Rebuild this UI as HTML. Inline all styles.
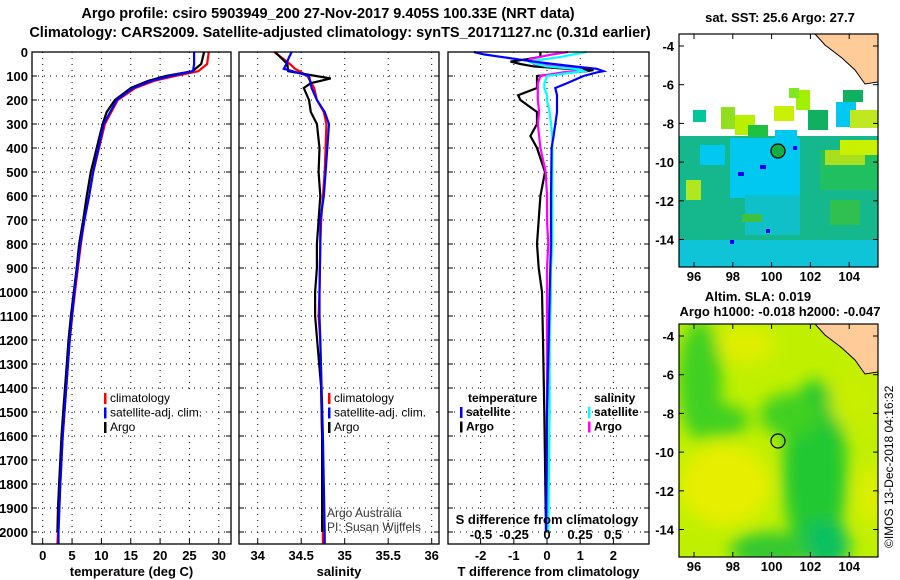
<!DOCTYPE html>
<html><head><meta charset="utf-8"><style>
body{margin:0;background:#fff}
svg{display:block;font-family:"Liberation Sans",sans-serif}
.t{font-weight:bold;font-size:14.5px}
.tk{font-weight:bold;font-size:13px}
.lg{font-size:12px}
.lgb{font-size:12px;font-weight:bold}
</style></head><body>
<svg id="c" width="900" height="580" viewBox="0 0 900 580">
<text class="t" x="328" y="18" text-anchor="middle">Argo profile: csiro 5903949_200 27-Nov-2017 9.405S 100.33E (NRT data)</text>
<text class="t" x="340" y="37" text-anchor="middle">Climatology: CARS2009. Satellite-adjusted climatology: synTS_20171127.nc (0.31d earlier)</text>
<g id="plots"></g>

<!-- SST map -->
<g>
<text class="tk" x="780" y="22" text-anchor="middle">sat. SST: 25.6 Argo: 27.7</text>
<rect x="679" y="34" width="199" height="233" fill="#fff"/>
<rect x="679" y="136" width="199" height="131" fill="#14b88c"/>
<rect x="730" y="138" width="70" height="60" fill="#00c8f0"/>
<rect x="745" y="195" width="55" height="40" fill="#10c0c8"/>
<rect x="679" y="240" width="199" height="27" fill="#10c4d8"/>
<rect x="820" y="150" width="58" height="40" fill="#20c060"/>
<rect x="825" y="150" width="40" height="15" fill="#a8e020"/>
<rect x="840" y="140" width="38" height="15" fill="#c8f000"/>
<rect x="686" y="180" width="15" height="20" fill="#b0e820"/>
<rect x="742" y="214" width="20" height="8" fill="#40c040"/>
<rect x="700" y="145" width="25" height="20" fill="#00c8f0"/>
<rect x="830" y="200" width="30" height="25" fill="#30c050"/>
<rect x="693" y="110" width="13" height="12" fill="#00c898"/>
<rect x="721" y="107" width="14" height="22" fill="#90e020"/>
<rect x="735" y="115" width="20" height="20" fill="#b8f000"/>
<rect x="748" y="125" width="20" height="12" fill="#20c040"/>
<rect x="774" y="106" width="20" height="15" fill="#c8f000"/>
<rect x="796" y="90" width="14" height="20" fill="#a0f000"/>
<rect x="789" y="88" width="10" height="10" fill="#80e820"/>
<rect x="808" y="110" width="20" height="20" fill="#10b060"/>
<rect x="843" y="90" width="20" height="12" fill="#10b060"/>
<rect x="836" y="102" width="20" height="25" fill="#00c8f0"/>
<rect x="850" y="110" width="28" height="18" fill="#c0e820"/>
<rect x="775" y="130" width="22" height="12" fill="#00c8f0"/>
<rect x="793" y="146" width="4" height="4" fill="#00f"/>
<rect x="760" y="165" width="6" height="4" fill="#00f"/>
<rect x="738" y="172" width="6" height="4" fill="#00f"/>
<rect x="730" y="240" width="4" height="4" fill="#00f"/>
<rect x="766" y="229" width="4" height="4" fill="#00f"/>
<path d="M815 34 L878 34 L878 82 L865 84 L855 70 L842 58 L825 45 Z" fill="#ffcc99" stroke="#000" stroke-width="1"/>
<circle cx="778" cy="151" r="7" fill="#10b040" stroke="#000" stroke-width="1.2"/>
<rect x="679" y="34" width="199" height="233" fill="none" stroke="#000" stroke-width="1.2"/>
<g id="map1ticks"></g>
</g>

<!-- SLA map -->
<g>
<text class="tk" x="758" y="301" text-anchor="middle">Altim. SLA: 0.019</text>
<text class="tk" x="780" y="316" text-anchor="middle">Argo h1000: -0.018 h2000: -0.047</text>
<defs><clipPath id="m2"><rect x="679" y="324" width="199" height="233"/></clipPath>
<filter id="bl"><feGaussianBlur stdDeviation="8"/></filter></defs>
<g clip-path="url(#m2)">
<rect x="679" y="324" width="199" height="233" fill="#c0f000"/>
<g filter="url(#bl)">
<ellipse cx="745" cy="345" rx="30" ry="18" fill="#e0ee00"/>
<ellipse cx="700" cy="380" rx="22" ry="60" fill="#40d020"/>
<ellipse cx="720" cy="420" rx="30" ry="16" fill="#40d020"/>
<ellipse cx="815" cy="470" rx="32" ry="90" fill="#20c830"/>
<ellipse cx="790" cy="415" rx="30" ry="22" fill="#40d020"/>
<ellipse cx="825" cy="545" rx="25" ry="25" fill="#10c060"/>
<ellipse cx="770" cy="550" rx="40" ry="18" fill="#30c830"/>
<ellipse cx="725" cy="485" rx="45" ry="40" fill="#e8ee00"/>
<ellipse cx="870" cy="495" rx="12" ry="30" fill="#e0ee00"/>
<ellipse cx="855" cy="400" rx="25" ry="30" fill="#c8ee00"/>
</g>
</g>
<path d="M815 324 L878 324 L878 372 L865 374 L855 360 L842 348 L825 335 Z" fill="#ffcc99" stroke="#000" stroke-width="1"/>
<circle cx="778" cy="441" r="7" fill="none" stroke="#000" stroke-width="1.2"/>
<rect x="679" y="324" width="199" height="233" fill="none" stroke="#000" stroke-width="1.2"/>
<g id="map2ticks"></g>
</g>
<text x="893" y="548" font-size="12" transform="rotate(-90 893 548)">©IMOS 13-Dec-2018 04:16:32</text>
</svg>
<script>
// ---- data ----
const depthT = [0,50,80,100,120,150,200,250,300,400,500,600,700,800,900,1000,1100,1200,1300,1400,1500,1600,1700,1800,1900,2000];
const tempArgo = [27.5,27,25.5,21,18,15,12.3,10.9,10.2,9.2,8.2,7.5,6.9,6.2,5.8,5.3,4.8,4.4,4.1,3.8,3.5,3.2,3.0,2.8,2.6,2.5];
const depthTc = [0,50,80,100,120,150,200,300,400,500,600,700,800,900,1000,1100,1200,1400,1600,1800,2000,2050];
const tempClim = [28.3,28,26.5,22.5,19,15.8,12.8,10.6,9.6,8.6,7.9,7.1,6.5,6.0,5.5,5.0,4.6,4.0,3.4,3.0,2.6,2.5];
const tempSat = [25.8,25.8,25.6,21.7,18.5,15.4,12.6,10.4,9.5,8.6,7.9,7.1,6.4,5.9,5.4,5.0,4.6,4.0,3.4,3.0,2.7,2.7];
const depthS = [0,50,80,100,110,130,150,200,250,300,400,500,600,700,800,900,1000,1100,1400,1600,2000];
const salArgo = [34.2,34.34,34.35,34.67,34.84,34.61,34.53,34.59,34.61,34.68,34.71,34.7,34.72,34.7,34.68,34.68,34.66,34.66,34.73,34.74,34.74];
const depthSc = [0,30,50,70,80,100,150,200,250,300,400,500,600,700,800,1000,1100,1200,1600,2000,2050];
const salClim = [34.19,34.3,34.37,34.43,34.48,34.57,34.65,34.68,34.76,34.79,34.78,34.77,34.75,34.73,34.72,34.71,34.7,34.72,34.74,34.75,34.75];
const salSat = [34.39,34.35,34.33,34.3,34.4,34.59,34.62,34.68,34.77,34.82,34.8,34.78,34.76,34.72,34.72,34.71,34.71,34.72,34.75,34.77,34.77];
const depthD = [0,10,20,30,40,50,60,70,75,80,85,100,130,150,180,200,250,300,350,400,500,600,700,800,900,1000,1200,1500,2000];
const dTsat = [-2.2,-1.9,-1.4,-0.9,-0.4,0.2,0.8,1.5,1.6,1.7,1.5,1.1,0.6,0.25,0.3,0.3,0.3,0.25,0.2,0.14,0.13,0.12,0.12,0.12,0.1,0.08,0.05,0.0,-0.03];
const dTargo = [-0.2,-0.2,-0.2,-0.6,-1.1,-0.8,-0.4,0.6,1.4,1.2,0.8,-0.3,-0.3,-0.3,-0.87,-0.8,-0.3,-0.3,-0.5,-0.3,-0.06,-0.2,-0.25,-0.3,-0.25,-0.15,-0.12,-0.08,-0.03];
const dSsat = [0.3,0.2,0.11,-0.02,-0.14,-0.08,0.0,0.2,0.26,0.28,0.2,0.0,-0.02,-0.02,0.0,0.0,0.02,0.03,0.04,0.04,0.04,0.04,0.04,0.04,0.03,0.03,0.02,0.02,0.01];
const dSargo = [0.16,0.04,-0.05,-0.13,-0.12,-0.1,0.05,0.25,0.22,0.2,0.12,-0.05,-0.07,-0.07,-0.07,-0.07,-0.06,-0.07,-0.06,-0.05,-0.01,0.0,0.0,0.01,0.0,0.0,0.0,0.0,0.0];
const depthTicks = [0,100,200,300,400,500,600,700,800,900,1000,1100,1200,1300,1400,1500,1600,1700,1800,1900,2000];
const tTicks = [0,5,10,15,20,25,30];
const sTicks = [34,34.5,35,35.5,36];
const dtTicks = [-2,-1,0,1,2];
const dsTicks = [-0.5,-0.25,0,0.25,0.5];
const lonTicks = [96,98,100,102,104];
const latTicks = [-4,-6,-8,-10,-12,-14];

const NS="http://www.w3.org/2000/svg";
function mk(tag,attrs,parent,txt){const e=document.createElementNS(NS,tag);for(const k in attrs)e.setAttribute(k,attrs[k]);if(txt!==undefined)e.textContent=txt;parent.appendChild(e);return e;}
const yD = d => 52 + d*0.24;
const xT = v => 42.7 + v*5.87;
const xS = v => 257.7 + (v-34)*87;
const xDT = v => 547 + v*33.2;
const xDS = v => 547 + v*132;
const plots=document.getElementById('plots');

function panel(name,x0,x1,vgrid,xf,ticks,fmt,label,showDepth){
  const g=mk('g',{},plots);
  
  
  depthTicks.forEach(d=>{
    const y=yD(d);
    mk('line',{x1:x0,x2:x1,y1:y,y2:y,stroke:'#000','stroke-width':1,'stroke-dasharray':'1,5'},g);
    mk('line',{x1:x0,x2:x0+5,y1:y,y2:y,stroke:'#000'},g);
    mk('line',{x1:x1-5,x2:x1,y1:y,y2:y,stroke:'#000'},g);
    if(showDepth){const t=mk('text',{x:28,y:y+5,'text-anchor':'end',class:'tk'},g,d);
      
      }
  });
  vgrid.forEach(v=>{const x=xf(v);
    mk('line',{x1:x,x2:x,y1:52,y2:544,stroke:'#000','stroke-dasharray':'1,5'},g);
    mk('line',{x1:x,x2:x,y1:544,y2:539,stroke:'#000'},g);});
  ticks.forEach(v=>{const t=mk('text',{x:xf(v),y:560,'text-anchor':'middle',class:'tk'},g,fmt(v));
    
    });
  const l=mk('text',{x:(x0+x1)/2,y:576,'text-anchor':'middle',class:'tk'},g,label);
  
  
  return g;
}
function line(g,name,xs,ds,xf,col){
  const p=xs.map((v,i)=>(i?'L':'M')+xf(v).toFixed(1)+' '+yD(ds[i]).toFixed(1)).join(' ');
  const e=mk('path',{d:p,fill:'none',stroke:col,'stroke-width':2.2},g);
  
  
}
function frame(g,x0,x1){mk('rect',{x:x0,y:52,width:x1-x0,height:492,fill:'none',stroke:'#000','stroke-width':1.3},g);}
function legend(g,x,y,items,cls){
  items.forEach((it,i)=>{
    const yy=y+i*14.5;
    mk('rect',{x:x,y:yy-9,width:2.5,height:11,fill:it[1]},g);
    const t=mk('text',{x:x+6,y:yy,class:cls},g,it[0]);
    
    
  });
}

// panel 1
let g1=panel('temperature-panel',32,231,tTicks,xT,tTicks,v=>v,'temperature (deg C)',true);
line(g1,'temp-climatology',tempClim,depthTc,xT,'#f00');
line(g1,'temp-argo',tempArgo,depthT,xT,'#000');
line(g1,'temp-satellite-adj',tempSat,depthTc,xT,'#00f');
frame(g1,32,231);
mk('rect',{x:100,y:390,width:95,height:42,fill:'#fff'},g1);
legend(g1,104,402,[['climatology','#f00'],['satellite-adj. clim.','#00f'],['Argo','#000']],'lg');

// panel 2
let g2=panel('salinity-panel',239,439,sTicks,xS,sTicks,v=>v,'salinity',false);
line(g2,'sal-climatology',salClim,depthSc,xS,'#f00');
line(g2,'sal-argo',salArgo,depthS,xS,'#000');
line(g2,'sal-satellite-adj',salSat,depthSc,xS,'#00f');
frame(g2,239,439);
mk('rect',{x:326,y:390,width:110,height:42,fill:'#fff'},g2);
legend(g2,328,402,[['climatology','#f00'],['satellite-adj. clim.','#00f'],['Argo','#000']],'lg');
const c1=mk('text',{x:327,y:517,class:'lg',fill:'#333'},g2,'Argo Australia');


const c2=mk('text',{x:327,y:531,class:'lg',fill:'#333'},g2,'PI: Susan Wijffels');



// panel 3
let g3=panel('difference-panel',448,649,dtTicks,xDT,dtTicks,v=>v,'T difference from climatology',false);
line(g3,'dT-argo',dTargo,depthD,xDT,'#000');
line(g3,'dS-argo',dSargo,depthD,xDS,'#f0f');
line(g3,'dS-satellite',dSsat,depthD,xDS,'#0ff');
line(g3,'dT-satellite',dTsat,depthD,xDT,'#00f');
frame(g3,448,649);
let tl=mk('text',{x:468,y:402,class:'lgb'},g3,'temperature');


legend(g3,460,416,[['satellite','#00f'],['Argo','#000']],'lgb');
let sl=mk('text',{x:594,y:402,class:'lgb'},g3,'salinity');


legend(g3,588,416,[['satellite','#0ff'],['Argo','#f0f']],'lgb');
let st=mk('text',{x:547,y:524,'text-anchor':'middle',class:'tk'},g3,'S difference from climatology');


dsTicks.forEach(v=>{const t=mk('text',{x:xDS(v),y:539,'text-anchor':'middle',class:'tk'},g3,String(v));
  
  });

// map ticks
function mapTicks(id,top,bot,lat0){
  const g=document.getElementById(id);
  latTicks.forEach(v=>{const y=lat0+(-4-v)*19.35;
    mk('line',{x1:679,x2:684,y1:y,y2:y,stroke:'#000'},g);
    mk('line',{x1:873,x2:878,y1:y,y2:y,stroke:'#000'},g);
    const t=mk('text',{x:674,y:y+5,'text-anchor':'end',class:'tk'},g,v);
    
    });
  lonTicks.forEach(v=>{const x=694+(v-96)*19.4;
    mk('line',{x1:x,x2:x,y1:top,y2:top+5,stroke:'#000'},g);
    mk('line',{x1:x,x2:x,y1:bot-5,y2:bot,stroke:'#000'},g);
    const t=mk('text',{x:x,y:bot+14,'text-anchor':'middle',class:'tk'},g,v);
    
    });
}
mapTicks('map1ticks',34,267,46);
mapTicks('map2ticks',324,557,336);
</script>
</body></html>
